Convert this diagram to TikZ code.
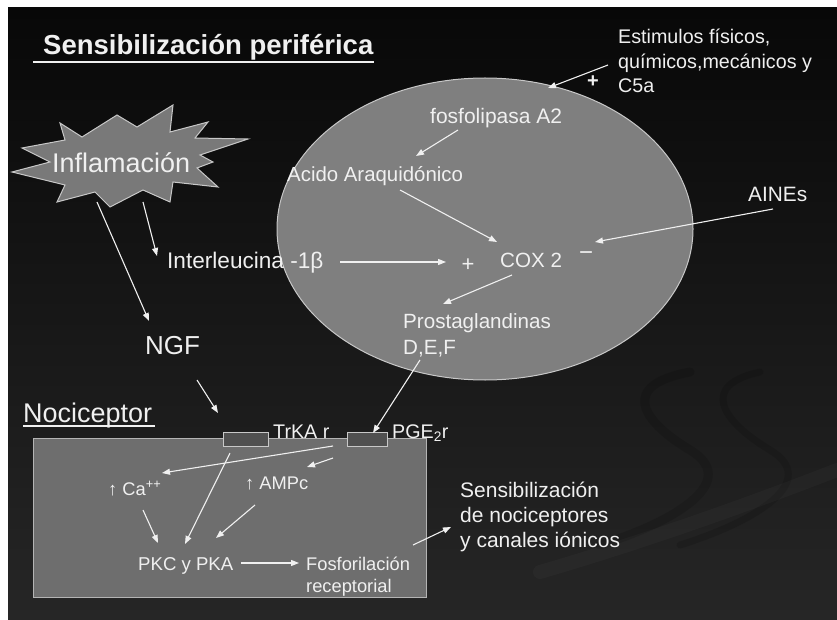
\documentclass[tikz,border=0pt]{standalone}
\usepackage{fontspec}
\setmainfont{Liberation Sans}
\usetikzlibrary{arrows.meta}
\definecolor{bgtop}{HTML}{080808}
\definecolor{bgbot}{HTML}{262626}
\definecolor{fg}{HTML}{F0F0F0}
\definecolor{ellfill}{HTML}{7F7F7F}
\definecolor{rectfill}{HTML}{6E6E6E}
\definecolor{recfill}{HTML}{505050}
\definecolor{edge}{HTML}{C8C8C8}
\begin{document}
\begin{tikzpicture}[x=1pt,y=-1pt,
  txt/.style={anchor=base west, inner sep=0pt, text=fg},
  arr/.style={draw=fg, line width=1.1pt, -{Triangle[length=8pt,width=6pt]}},
  sign/.style={anchor=center, inner sep=0pt, text=fg, font=\fontsize{22}{24}\selectfont},
]
\useasboundingbox (0,0) rectangle (837,620);
\fill[white] (0,0) rectangle (837,620);
\shade[top color=bgtop, bottom color=bgbot] (8,8) rectangle (837,620);
% faint background swooshes
\begin{scope}[opacity=0.12]
\draw[line width=9pt, black, line cap=round] (690,372) .. controls (620,385) and (640,420) .. (690,450) .. controls (740,480) and (680,520) .. (600,545);
\draw[line width=7pt, black, line cap=round] (760,372) .. controls (700,385) and (720,420) .. (770,450) .. controls (820,480) and (760,520) .. (680,545);
\end{scope}
\begin{scope}[opacity=0.025]
\draw[line width=14pt, white, line cap=round] (540,572) .. controls (650,540) and (760,500) .. (837,470);
\end{scope}

% title
\node[txt, font=\bfseries\fontsize{27.5}{30}\selectfont] (title) at (43,55) {Sensibilización periférica};
\draw[fg, line width=2.4pt] (33,62) -- (374,62);

% ellipse
\draw[fill=ellfill, draw=edge, line width=1pt] (485,229) ellipse [x radius=208, y radius=151];

% starburst
\draw[fill=ellfill!95!black, draw=edge, line width=1pt]
 (12,172) -- (50,162) -- (22,148) -- (65,140) -- (60,123) -- (82,137) -- (117,115) -- (137,127)
 -- (173,105) -- (170,132) -- (208,122) -- (195,138) -- (248,139) -- (200,155) -- (213,162)
 -- (197,168) -- (218,187) -- (173,182) -- (170,202) -- (143,190) -- (110,207) -- (95,192)
 -- (57,202) -- (65,185) -- cycle;
\node[txt, font=\fontsize{27}{30}\selectfont] (inflam) at (52,173) {Inflamación};

% nociceptor cell
\node[txt, font=\fontsize{27}{30}\selectfont] (noci) at (23,422) {Nociceptor};
\draw[fg, line width=1.6pt] (23,426) -- (155,426);
\draw[fill=rectfill, draw=edge!90!black, line width=1pt] (33,438) rectangle (426,597);
\draw[fill=recfill, draw=edge, line width=1pt] (223,432) rectangle (268,446);
\draw[fill=recfill, draw=edge, line width=1pt] (347,432) rectangle (387,446);
\node[txt, font=\fontsize{19.7}{22}\selectfont] (trka) at (273,438) {TrKA r};
\node[txt, font=\fontsize{19.7}{22}\selectfont] (pge) at (392,438) {PGE\textsubscript{2}r};

% texts
\node[txt, font=\fontsize{19.7}{22}\selectfont] (est1) at (618,44) {Estimulos físicos,};
\node[txt, font=\fontsize{19.7}{22}\selectfont] (est2) at (618,69) {químicos,mecánicos y};
\node[txt, font=\fontsize{19.7}{22}\selectfont] (est3) at (618,93) {C5a};
\node[sign, font=\bfseries\fontsize{20}{22}\selectfont] (plus1) at (593,82) {+};
\node[txt, font=\fontsize{21}{24}\selectfont] (fosfo) at (430,124) {fosfolipasa A2};
\node[txt, font=\fontsize{20.4}{24}\selectfont] (acido) at (287,182) {Acido Araquidónico};
\node[txt, font=\fontsize{20.6}{24}\selectfont] (cox) at (500,267) {COX 2};
\node[sign] (plus2) at (468,265) {+};
\node[sign] (minus) at (586,256) {\fontsize{24}{24}\selectfont −};
\node[txt, font=\fontsize{20.8}{24}\selectfont] (aines) at (748,202) {AINEs};
\node[txt, font=\fontsize{22.6}{26}\selectfont] (il) at (167,268) {Interleucina -1β};
\node[txt, font=\fontsize{26}{30}\selectfont] (ngf) at (145,354) {NGF};
\node[txt, font=\fontsize{20.6}{24}\selectfont] (prost) at (403,328) {Prostaglandinas};
\node[txt, font=\fontsize{20.6}{24}\selectfont] (def) at (403,354) {D,E,F};
\node[txt, font=\fontsize{18.3}{22}\selectfont] (ca) at (108,495) {↑ Ca\textsuperscript{++}};
\node[txt, font=\fontsize{18.3}{22}\selectfont] (ampc) at (245,489) {↑ AMPc};
\node[txt, font=\fontsize{18.6}{22}\selectfont] (pkc) at (138,570) {PKC y PKA};
\node[txt, font=\fontsize{18.3}{22}\selectfont] (fosf1) at (306,570) {Fosforilación};
\node[txt, font=\fontsize{18.3}{22}\selectfont] (fosf2) at (306,592) {receptorial};
\node[txt, font=\fontsize{21}{24}\selectfont] (sens1) at (460,497) {Sensibilización};
\node[txt, font=\fontsize{21}{24}\selectfont] (sens2) at (460,522) {de nociceptores};
\node[txt, font=\fontsize{21}{24}\selectfont] (sens3) at (460,547) {y canales iónicos};

% arrow end points
\coordinate (a1s) at (608,65);  \coordinate (a1e) at (548,88);
\coordinate (a2s) at (458,130); \coordinate (a2e) at (416,156);
\coordinate (a3s) at (400,190); \coordinate (a3e) at (497,242);
\coordinate (a4s) at (340,262); \coordinate (a4e) at (446,262);
\coordinate (a5s) at (773,209); \coordinate (a5e) at (595,242);
\coordinate (a6s) at (512,275); \coordinate (a6e) at (443,304);
\coordinate (a7s) at (420,360); \coordinate (a7e) at (373,433);
\coordinate (a8s) at (97,202);  \coordinate (a8e) at (149,321);
\coordinate (a9s) at (143,202); \coordinate (a9e) at (157,256);
\coordinate (a10s) at (197,380); \coordinate (a10e) at (218,413);
\coordinate (a11s) at (333,446); \coordinate (a11e) at (162,473);
\coordinate (a12s) at (333,458); \coordinate (a12e) at (307,467);
\coordinate (a13s) at (143,510); \coordinate (a13e) at (158,543);
\coordinate (a14s) at (230,453); \coordinate (a14e) at (185,544);
\coordinate (a15s) at (255,505); \coordinate (a15e) at (216,538);
\coordinate (a16s) at (241,563); \coordinate (a16e) at (299,563);
\coordinate (a17s) at (413,545); \coordinate (a17e) at (451,527);

\foreach \i in {1,...,17} \draw[arr] (a\i s) -- (a\i e);
\end{tikzpicture}
\end{document}
